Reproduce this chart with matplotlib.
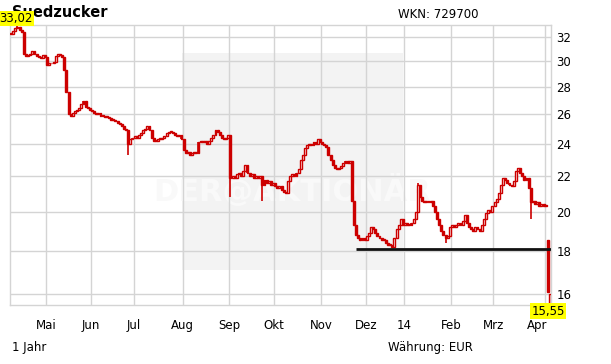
import matplotlib
matplotlib.use("Agg")
import matplotlib.pyplot as plt
import matplotlib.transforms as mtrans
from matplotlib.patches import Rectangle
import numpy as np

# ---------------- data (daily closes per month) ----------------
month_labels = ["Mai", "Jun", "Jul", "Aug", "Sep", "Okt", "Nov", "Dez", "14", "Feb", "Mrz", "Apr"]

close_apr13 = [32.3, 32.5, 32.8, 32.9, 32.6, 32.4, 30.6, 30.4, 30.5, 30.6, 30.8, 30.6, 30.4, 30.3, 30.2, 30.5, 30.3]
close_mai = [29.7, 29.8, 29.8, 29.9, 30.4, 30.6, 30.5, 30.3, 29.3, 27.6, 26.0, 25.9, 26.1, 26.2, 26.3, 26.4,
             26.7, 26.9, 26.5, 26.4, 26.3]
close_jun = [26.2, 26.1, 26.0, 26.1, 25.9, 25.9, 25.8, 25.8, 25.7, 25.6, 25.6, 25.5, 25.4, 25.3, 25.2, 25.0,
             24.9, 24.0, 24.3, 24.4]
close_jul = [24.5, 24.4, 24.6, 24.7, 24.9, 25.0, 25.2, 24.9, 24.4, 24.2, 24.2, 24.3, 24.3, 24.4, 24.5, 24.7,
             24.8, 24.8, 24.7, 24.6, 24.5, 24.6, 24.3]
close_aug = [23.6, 23.4, 23.5, 23.3, 23.4, 23.5, 23.4, 24.1, 24.2, 24.1, 24.2, 24.0, 24.2, 24.4, 24.6, 24.9,
             24.8, 24.6, 24.4, 24.3, 24.4, 24.6]
close_sep = [21.9, 22.0, 21.9, 22.1, 22.2, 22.0, 22.3, 22.7, 22.2, 22.0, 22.1, 21.9, 22.0, 21.9, 22.0, 21.5,
             21.8, 21.6, 21.7, 21.5, 21.6]
close_okt = [21.4, 21.3, 21.4, 21.2, 21.1, 21.0, 21.7, 22.0, 22.1, 22.0, 22.2, 22.4, 23.0, 23.3, 23.7, 23.9,
             24.0, 23.9, 24.1, 24.0, 24.3, 24.1]
close_nov = [24.0, 23.9, 23.8, 23.3, 23.0, 22.7, 22.5, 22.4, 22.5, 22.6, 22.8, 22.9, 22.8, 22.9, 20.6, 19.3,
             18.8, 18.6, 18.5, 18.6, 18.5]
close_dez = [18.7, 18.9, 19.2, 19.1, 18.9, 18.7, 18.6, 18.5, 18.5, 18.4, 18.3, 18.3, 18.2, 18.6, 19.1, 19.3,
             19.6, 19.3]
close_jan = [19.4, 19.3, 19.3, 19.4, 19.6, 20.0, 21.5, 20.8, 20.6, 20.5, 20.6, 20.5, 20.6, 20.3, 20.0, 19.6,
             19.3, 19.0, 18.8, 18.6, 18.7, 19.2]
close_feb = [19.3, 19.2, 19.3, 19.4, 19.3, 19.5, 19.8, 19.4, 19.2, 19.1, 19.0, 19.2, 19.1, 19.0, 19.3, 19.6,
             19.9, 20.1, 20.0, 20.3]
close_mrz = [20.5, 20.7, 21.0, 21.5, 21.9, 21.8, 21.6, 21.5, 21.4, 21.7, 22.3, 22.5, 22.2, 22.0, 21.8, 21.9,
             21.3, 20.5, 20.6, 20.4, 20.5, 20.3, 20.4, 20.3]
close_apr14 = [20.3, 16.1, 16.0]

# opening gaps (day index -> open) and wick extremes (day index -> low / high)
open_gaps = {252: 18.5, 253: 15.6}
wick_low = {55: 23.3, 103: 20.8, 118: 20.6, 204: 18.4, 244: 19.6, 253: 15.55}
wick_high = {3: 33.02, 191: 21.6}

support_level = 18.1
support_start = 162
period_max = "33,02"
period_min = "15,55"

# ---------------- assemble ----------------
months = [close_apr13, close_mai, close_jun, close_jul, close_aug, close_sep, close_okt,
          close_nov, close_dez, close_jan, close_feb, close_mrz, close_apr14]
closes = np.array([v for m in months for v in m])
n = len(closes)
opens = np.concatenate([[closes[0]], closes[:-1]])
for k, v in open_gaps.items():
    opens[k] = v
idx = np.arange(n)
lows = np.minimum(opens, closes)
highs = np.maximum(opens, closes)
for k, v in wick_low.items():
    lows[k] = v
for k, v in wick_high.items():
    highs[k] = v
bounds = np.cumsum([len(m) for m in months])[:-1] - 0.5

# ---------------- figure ----------------
W, H = 611, 364
fig = plt.figure(figsize=(W / 100, H / 100), dpi=100)
fig.patch.set_facecolor("white")
L, R, T, B = 10, 551, 25, 305
ax = fig.add_axes([L / W, 1 - B / H, (R - L) / W, (B - T) / H])
ax.set_yscale("log")
ax.set_xlim(-0.5, n - 0.5)
ax.set_ylim(15.55, 33.05)

gridc = "#d4d4d4"
for s in ax.spines.values():
    s.set_color(gridc)
    s.set_linewidth(1)

# watermark box
ax.add_patch(Rectangle((0.318, 0.125), 0.408, 0.775, transform=ax.transAxes,
                       facecolor="#f3f3f3", edgecolor="none", zorder=0))
ax.text(0.521, 0.41, "DER@AKTIONÄR", transform=ax.transAxes, ha="center", va="center",
        fontsize=22, fontweight="bold", color="#f9f9f9", zorder=0.5)

yt = [16, 18, 20, 22, 24, 26, 28, 30, 32]
for y in yt:
    ax.axhline(y, color=gridc, lw=1, zorder=1)
for b in bounds:
    ax.axvline(b, color=gridc, lw=1, zorder=1)

red = "#cc0000"
ax.vlines(idx, lows, highs, color=red, lw=1.2, zorder=3)
up = closes > opens
body_h = np.maximum(np.abs(closes - opens), 0.05)
body_b = np.minimum(opens, closes)
ax.bar(idx[~up], body_h[~up], bottom=body_b[~up], width=0.9, color=red, edgecolor=red, lw=1.0, zorder=3)
ax.bar(idx[up], body_h[up], bottom=body_b[up], width=0.9, color="white", edgecolor=red, lw=1.0, zorder=3)

ax.hlines(support_level, support_start, n - 0.5, color="#111111", lw=2, zorder=4)

ax.set_yticks(yt)
ax.set_yticklabels([str(v) for v in yt])
ax.yaxis.set_minor_locator(matplotlib.ticker.NullLocator())
ax.yaxis.tick_right()
ax.tick_params(axis="y", length=0, pad=4, labelsize=8.5)
ax.set_xticks(bounds)
ax.set_xticklabels(month_labels)
ax.tick_params(axis="x", length=0, pad=10, labelsize=8.5)
xl = ax.get_xticklabels()
xl[-1].set_transform(xl[-1].get_transform() + mtrans.ScaledTranslation(-7 / 100, 0, fig.dpi_scale_trans))

def px(x, y):
    return x / W, 1 - y / H

fig.text(*px(12, 12.5), "Suedzucker", fontsize=10.5, fontweight="bold", va="center", ha="left")
fig.text(*px(398, 14), "WKN: 729700", fontsize=8.5, va="center", ha="left")
fig.text(*px(12, 347), "1 Jahr", fontsize=8.5, va="center", ha="left")
fig.text(*px(388, 347), "Währung: EUR", fontsize=8.5, va="center", ha="left")
fig.text(*px(16, 18.5), period_max, fontsize=8.5, va="center", ha="center",
         bbox=dict(boxstyle="square,pad=0.1", facecolor="#ffff00", edgecolor="none"))
fig.text(*px(548, 311), period_min, fontsize=8.5, va="center", ha="center",
         bbox=dict(boxstyle="square,pad=0.1", facecolor="#ffff00", edgecolor="none"))

fig.savefig("out.png", dpi=100)
